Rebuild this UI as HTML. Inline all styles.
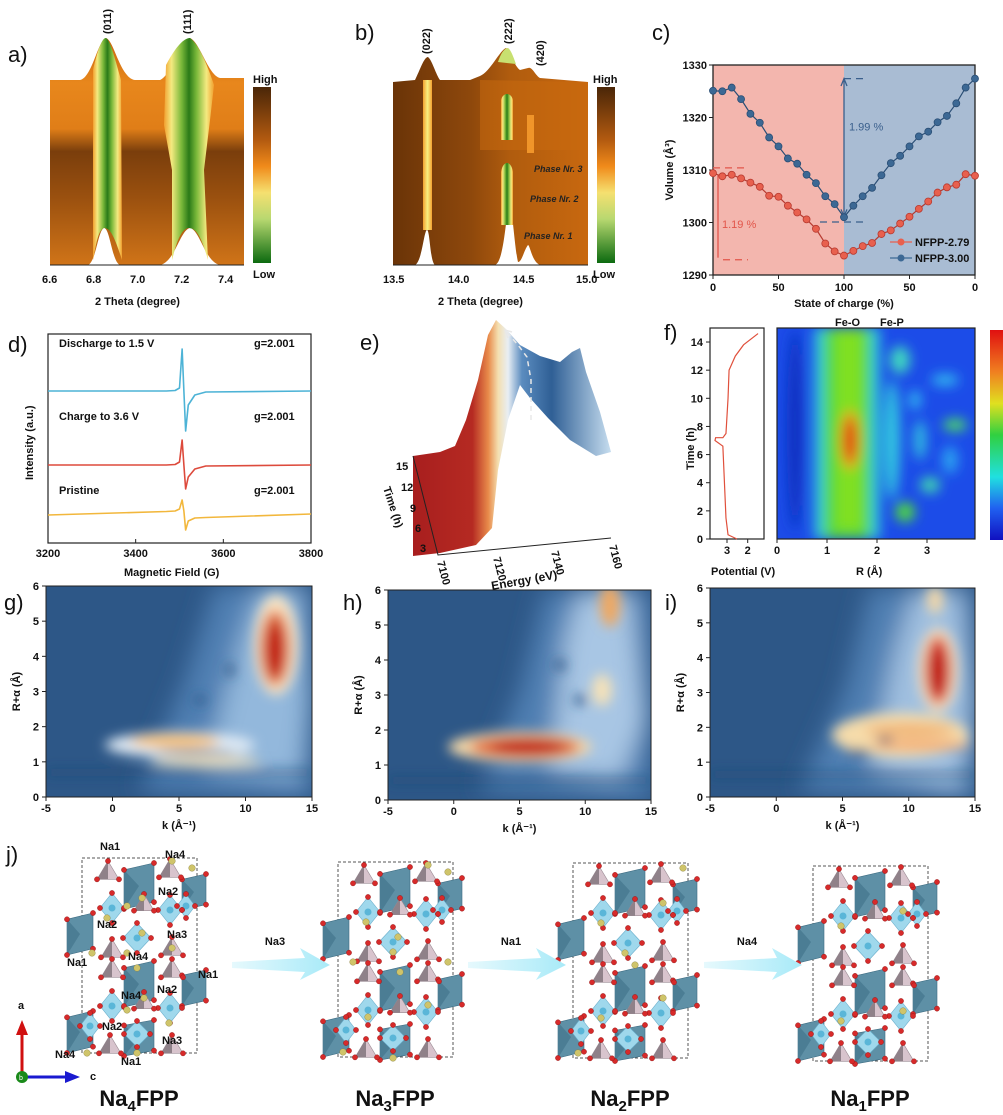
<!DOCTYPE html>
<html><head><meta charset="utf-8">
<style>
html,body{margin:0;padding:0;background:#fff;}
svg{display:block;font-family:"Liberation Sans",Arial,sans-serif;}
.t{font-size:11px;font-weight:bold;fill:#111;}
.pl{font-size:22px;fill:#111;}
</style></head>
<body>
<svg id="fig" width="1003" height="1115" viewBox="0 0 1003 1115" xmlns="http://www.w3.org/2000/svg">
<defs>
<linearGradient id="cbXrd" x1="0" y1="0" x2="0" y2="1">
<stop offset="0" stop-color="#4a2608"/><stop offset="0.3" stop-color="#b25a10"/><stop offset="0.45" stop-color="#f08a1a"/><stop offset="0.6" stop-color="#f5e070"/><stop offset="0.75" stop-color="#b8d870"/><stop offset="1" stop-color="#0c6a10"/></linearGradient>
<linearGradient id="bodyA" x1="0" y1="0" x2="0" y2="1">
<stop offset="0" stop-color="#c9680e"/><stop offset="0.2" stop-color="#e8871c"/><stop offset="0.4" stop-color="#e07e18"/><stop offset="0.5" stop-color="#7a3e0c"/><stop offset="0.7" stop-color="#9a500f"/><stop offset="1" stop-color="#d07418"/></linearGradient>
<linearGradient id="bodyB" x1="0" y1="0" x2="1" y2="0">
<stop offset="0" stop-color="#6a3408"/><stop offset="0.4" stop-color="#8e480c"/><stop offset="0.6" stop-color="#b05c0e"/><stop offset="1" stop-color="#c8680f"/></linearGradient>
<linearGradient id="grn" x1="0" y1="0" x2="1" y2="0">
<stop offset="0" stop-color="#f2a030"/><stop offset="0.15" stop-color="#f4ea80"/><stop offset="0.35" stop-color="#7ab83a"/><stop offset="0.5" stop-color="#2a7a18"/><stop offset="0.65" stop-color="#7ab83a"/><stop offset="0.85" stop-color="#f4ea80"/><stop offset="1" stop-color="#f2a030"/></linearGradient>
<linearGradient id="yel" x1="0" y1="0" x2="1" y2="0">
<stop offset="0" stop-color="#f3a030"/><stop offset="0.5" stop-color="#f8f080"/><stop offset="1" stop-color="#f3a030"/></linearGradient>
<linearGradient id="cbJet" x1="0" y1="0" x2="0" y2="1">
<stop offset="0" stop-color="#e01010"/><stop offset="0.2" stop-color="#f08020"/><stop offset="0.35" stop-color="#e0e020"/><stop offset="0.5" stop-color="#30d040"/><stop offset="0.7" stop-color="#20e0e0"/><stop offset="0.85" stop-color="#2060f0"/><stop offset="1" stop-color="#1010c0"/></linearGradient>
<linearGradient id="eGrad" x1="0" y1="0" x2="1" y2="0">
<stop offset="0" stop-color="#a81e1e"/><stop offset="0.3" stop-color="#b52a22"/><stop offset="0.38" stop-color="#e88a4a"/><stop offset="0.43" stop-color="#f4dfb0"/><stop offset="0.48" stop-color="#e8eef4"/><stop offset="0.55" stop-color="#5b8cbf"/><stop offset="0.7" stop-color="#2f5f95"/><stop offset="1" stop-color="#c6ddef"/></linearGradient>
<linearGradient id="arrowG" x1="0" y1="0" x2="1" y2="0">
<stop offset="0" stop-color="#e6f9fd"/><stop offset="1" stop-color="#a8eaf8"/></linearGradient>
<filter id="bl6" x="-50%" y="-50%" width="200%" height="200%"><feGaussianBlur stdDeviation="6"/></filter>
<filter id="bl12" x="-50%" y="-50%" width="200%" height="200%"><feGaussianBlur stdDeviation="12"/></filter>
<clipPath id="cg"><rect x="46" y="586" width="266" height="211"/></clipPath>
<clipPath id="ch"><rect x="388" y="590" width="263" height="210"/></clipPath>
<clipPath id="ci"><rect x="710" y="588" width="265" height="209"/></clipPath>
<clipPath id="cf"><rect x="777" y="328" width="198" height="211"/></clipPath>
</defs>

<!-- ===== panel a ===== -->
<g>
<text class="pl" x="8" y="62">a)</text>
<path d="M50,80 L80,80 C92,78 98,40 106,38 C114,40 120,78 135,80 L160,80 C172,75 180,40 190,38 C200,42 208,75 220,78 L244,78 L244,265 L220,265 C205,262 200,230 190,228 C180,230 175,262 160,265 L120,265 C112,262 110,228 104,228 C98,230 96,262 88,265 L50,265 Z" fill="url(#bodyA)"/>
<path d="M93,70 C100,40 104,38 106,38 C110,40 114,55 121,80 L122,260 C114,235 110,228 104,228 C98,230 96,245 93,260 Z" fill="url(#grn)"/>
<path d="M166,65 C178,42 186,38 190,38 C196,42 204,55 214,85 L210,120 L204,170 L208,260 C200,232 195,228 188,228 C180,230 176,245 172,260 L172,170 L164,125 Z" fill="url(#grn)"/>
<line x1="50" y1="265" x2="244" y2="265" stroke="#222" stroke-width="1"/>
<g class="t" font-size="12">
<text x="42" y="283">6.6</text><text x="86" y="283">6.8</text><text x="130" y="283">7.0</text><text x="174" y="283">7.2</text><text x="218" y="283">7.4</text>
</g>
<text x="95" y="305" class="t" font-size="13">2 Theta (degree)</text>
<text transform="translate(111,34) rotate(-90)" class="t" font-size="13">(011)</text>
<text transform="translate(191,34) rotate(-90)" class="t" font-size="13">(111)</text>
<rect x="253" y="87" width="18" height="176" fill="url(#cbXrd)"/>
<text x="253" y="83" class="t" font-size="15">High</text>
<text x="253" y="278" class="t" font-size="15">Low</text>
</g>

<!-- ===== panel b ===== -->
<g>
<text class="pl" x="355" y="40">b)</text>
<path d="M393,82 L415,80 C420,70 424,57 428,57 C432,60 436,75 440,80 L470,80 L480,76 C490,72 500,50 506,48 C510,50 514,66 520,70 L528,68 C532,66 535,75 540,78 L588,82 L588,265 L540,265 C532,262 530,245 528,245 C524,250 522,262 518,262 C515,250 512,205 510,205 C506,205 505,262 495,265 L435,265 C430,262 430,230 427,230 C424,230 422,262 415,265 L393,265 Z" fill="url(#bodyB)"/>
<path d="M480,80 L588,82 L588,150 L480,150 Z" fill="#c8690f" opacity="0.55"/>
<rect x="423" y="80" width="9" height="150" fill="url(#yel)"/>
<path d="M501,100 C503,92 511,92 513,100 L513,140 L501,140 Z" fill="url(#grn)"/>
<path d="M501,172 C503,160 511,160 513,172 L513,225 L501,225 Z" fill="url(#grn)"/>
<path d="M498,62 C502,50 506,48 508,48 C511,50 513,56 516,64 Z" fill="#c8e070"/>
<rect x="527" y="115" width="7" height="38" fill="#f0952a"/>
<g font-size="9" font-weight="bold" font-style="italic" fill="#222">
<text x="534" y="172">Phase Nr. 3</text><text x="530" y="202">Phase Nr. 2</text><text x="524" y="239">Phase Nr. 1</text></g>
<line x1="393" y1="265" x2="588" y2="265" stroke="#222"/>
<g class="t" font-size="12">
<text x="383" y="283">13.5</text><text x="448" y="283">14.0</text><text x="513" y="283">14.5</text><text x="576" y="283">15.0</text></g>
<text x="438" y="305" class="t" font-size="13">2 Theta (degree)</text>
<text transform="translate(430,54) rotate(-90)" class="t" font-size="13">(022)</text>
<text transform="translate(512,44) rotate(-90)" class="t" font-size="13">(222)</text>
<text transform="translate(544,66) rotate(-90)" class="t" font-size="13">(420)</text>
<rect x="597" y="87" width="18" height="176" fill="url(#cbXrd)"/>
<text x="593" y="83" class="t" font-size="15">High</text>
<text x="593" y="278" class="t" font-size="15">Low</text>
</g>

<!-- ===== panel c ===== -->
<g id="panelC">
<text class="pl" x="652" y="40">c)</text>
</g>

<!-- ===== panel d ===== -->
<g id="panelD">
<text class="pl" x="8" y="352">d)</text>
<rect x="48" y="334" width="263" height="209" fill="none" stroke="#222" stroke-width="1.2"/>
<g class="t" font-size="11">
<text x="59" y="347">Discharge to 1.5 V</text><text x="254" y="347">g=2.001</text>
<text x="59" y="420">Charge to 3.6 V</text><text x="254" y="420">g=2.001</text>
<text x="59" y="494">Pristine</text><text x="254" y="494">g=2.001</text>
</g>
<text transform="translate(33,480) rotate(-90)" class="t" font-size="12">Intensity (a.u.)</text>
<text x="124" y="576" class="t" font-size="12">Magnetic Field (G)</text>
</g>

<!-- ===== panel e ===== -->
<g>
<text class="pl" x="360" y="350">e)</text>
<path d="M413,456 L440,452 L455,446 L466,420 L478,380 L488,335 L496,320 L506,329 L520,345 L540,356 L560,362 L572,352 L580,348 L586,372 L600,412 L611,452 L596,456 L570,440 L548,418 L530,398 L520,385 L508,420 L498,470 L492,528 L476,545 L440,553 L413,556 Z" fill="url(#eGrad)"/>
<path d="M531,420 L531,380 L527,357 L518,345 L505,330" fill="none" stroke="#e8e8e8" stroke-width="1.5" stroke-dasharray="5,4"/>
<path d="M505,330 L508,338 M505,330 L512,332" stroke="#e8e8e8" stroke-width="1.5"/>
<path d="M413,456 L438,555 L611,538" fill="none" stroke="#222" stroke-width="1"/>
<g class="t" font-size="10">
<text x="396" y="470">15</text><text x="401" y="491">12</text><text x="410" y="512">9</text><text x="415" y="532">6</text><text x="420" y="552">3</text>
<text transform="translate(437,562) rotate(75)">7100</text>
<text transform="translate(493,558) rotate(75)">7120</text>
<text transform="translate(551,552) rotate(75)">7140</text>
<text transform="translate(609,546) rotate(75)">7160</text>
<text transform="translate(383,488) rotate(72)" font-size="11">Time (h)</text>
<text transform="translate(492,590) rotate(-10)" font-size="12">Energy (eV)</text>
</g>
</g>

<!-- ===== panel f ===== -->
<g id="panelF">
<text class="pl" x="664" y="340">f)</text>
<g clip-path="url(#cf)">
<rect x="777" y="328" width="198" height="211" fill="#1c4ce8"/>
<g filter="url(#bl6)">
<rect x="814" y="328" width="66" height="211" fill="#30c8d8"/>
<rect x="824" y="328" width="46" height="211" fill="#52d83c"/>
<rect x="836" y="330" width="26" height="200" fill="#80e020"/>
<ellipse cx="850" cy="440" rx="10" ry="30" fill="#e8a020"/>
<ellipse cx="850" cy="440" rx="6" ry="22" fill="#e03010"/>
<ellipse cx="892" cy="440" rx="8" ry="60" fill="#30c8e0"/>
<ellipse cx="905" cy="512" rx="10" ry="10" fill="#50d840"/>
<ellipse cx="900" cy="360" rx="10" ry="14" fill="#40d8c0"/>
<ellipse cx="955" cy="425" rx="12" ry="6" fill="#50e060"/>
<ellipse cx="920" cy="440" rx="6" ry="20" fill="#30c0e0"/>
<ellipse cx="930" cy="485" rx="10" ry="8" fill="#40d8b0"/>
<ellipse cx="945" cy="380" rx="14" ry="6" fill="#30b8f0"/>
<ellipse cx="915" cy="400" rx="6" ry="10" fill="#30b8f0"/>
<ellipse cx="950" cy="460" rx="8" ry="14" fill="#2aa0f0"/>
<ellipse cx="795" cy="430" rx="8" ry="100" fill="#1030c0"/>
</g>
</g>
<rect x="777" y="328" width="198" height="211" fill="none" stroke="#222" stroke-width="1.2"/>
<rect x="710" y="328" width="54" height="211" fill="none" stroke="#222" stroke-width="1.2"/>
<rect x="990" y="330" width="13" height="210" fill="url(#cbJet)"/>
<text x="835" y="326" class="t" font-size="12">Fe-O</text>
<text x="880" y="326" class="t" font-size="12">Fe-P</text>
<text x="711" y="575" class="t" font-size="12">Potential (V)</text>
<text x="856" y="575" class="t" font-size="12">R (Å)</text>
<text transform="translate(694,470) rotate(-90)" class="t" font-size="11">Time (h)</text>
</g>

<!-- ===== panels g,h,i ===== -->
<g>
<text class="pl" x="4" y="610">g)</text>
<g clip-path="url(#cg)">
<rect x="46" y="586" width="266" height="211" fill="#2d5787"/>
<g filter="url(#bl12)">
<path d="M140,790 L185,680 L215,586 L312,586 L312,800 Z" fill="#4f7fb2"/>
<path d="M205,770 L240,640 L260,586 L300,586 L310,700 L300,780 Z" fill="#93b8dc"/>
</g>
<g filter="url(#bl6)">
<ellipse cx="180" cy="745" rx="75" ry="13" fill="#dfeaf4"/>
<ellipse cx="175" cy="741" rx="45" ry="7" fill="#f7c070"/>
<ellipse cx="205" cy="761" rx="55" ry="5" fill="#f3e2bc"/>
<ellipse cx="195" cy="753" rx="40" ry="2.5" fill="#24507e"/>
<ellipse cx="276" cy="645" rx="22" ry="50" fill="#fbe6c4"/>
<ellipse cx="275" cy="648" rx="15" ry="38" fill="#e07040"/>
<ellipse cx="275" cy="650" rx="9" ry="28" fill="#c01e16"/>
<ellipse cx="200" cy="700" rx="6" ry="4" fill="#2a5585"/><ellipse cx="230" cy="670" rx="4" ry="7" fill="#2a5585"/>
<rect x="46" y="771" width="266" height="3" fill="#1f4470"/>
</g></g>
<rect x="46" y="586" width="266" height="211" fill="none" stroke="#222"/>
</g>
<g>
<text class="pl" x="343" y="610">h)</text>
<g clip-path="url(#ch)">
<rect x="388" y="590" width="263" height="210" fill="#2d5787"/>
<g filter="url(#bl12)">
<path d="M480,790 L520,690 L545,590 L651,590 L651,800 Z" fill="#4f7fb2"/>
<path d="M550,770 L565,640 L580,590 L630,590 L645,720 L620,780 Z" fill="#a8c6e4"/>
</g>
<g filter="url(#bl6)">
<ellipse cx="520" cy="747" rx="72" ry="15" fill="#f5d8a8"/>
<ellipse cx="525" cy="747" rx="55" ry="11" fill="#e06a3a"/>
<ellipse cx="528" cy="747" rx="38" ry="7" fill="#bd1a16"/>
<ellipse cx="610" cy="605" rx="10" ry="22" fill="#f0a860"/>
<ellipse cx="602" cy="690" rx="10" ry="16" fill="#f6e2b8"/>
<ellipse cx="560" cy="665" rx="6" ry="5" fill="#2a5585"/><ellipse cx="580" cy="700" rx="6" ry="5" fill="#2a5585"/>
<rect x="388" y="779" width="263" height="3" fill="#1f4470"/>
</g></g>
<rect x="388" y="590" width="263" height="210" fill="none" stroke="#222"/>
</g>
<g>
<text class="pl" x="665" y="610">i)</text>
<g clip-path="url(#ci)">
<rect x="710" y="588" width="265" height="209" fill="#2d5787"/>
<g filter="url(#bl12)">
<path d="M800,790 L845,690 L870,588 L975,588 L975,800 Z" fill="#4f7fb2"/>
<path d="M870,770 L895,650 L915,588 L960,588 L975,700 L960,790 Z" fill="#a0c0e0"/>
</g>
<g filter="url(#bl6)">
<ellipse cx="900" cy="735" rx="68" ry="22" fill="#f6dcaa"/>
<ellipse cx="910" cy="730" rx="45" ry="6" fill="#f0b070"/>
<ellipse cx="920" cy="745" rx="50" ry="5" fill="#f3a870"/>
<ellipse cx="885" cy="740" rx="8" ry="3" fill="#24507e"/>
<ellipse cx="858" cy="752" rx="12" ry="3" fill="#24507e"/>
<ellipse cx="938" cy="670" rx="20" ry="42" fill="#f9e0bc"/>
<ellipse cx="938" cy="670" rx="13" ry="34" fill="#d84030"/>
<ellipse cx="938" cy="672" rx="8" ry="24" fill="#bd1a16"/>
<ellipse cx="935" cy="600" rx="8" ry="14" fill="#f6d9a8"/>
<rect x="710" y="773" width="265" height="3" fill="#1f4470"/>
</g></g>
<rect x="710" y="588" width="265" height="209" fill="none" stroke="#222"/>
</g>
<g id="wtAxes"></g>

<!-- ===== panel j ===== -->
<g id="panelJ">
<text class="pl" x="6" y="862">j)</text>
</g>
</svg>

<script>
const NS='http://www.w3.org/2000/svg';
function mk(tag,attrs,parent,txt){const e=document.createElementNS(NS,tag);for(const k in attrs)e.setAttribute(k,attrs[k]);if(txt!==undefined)e.textContent=txt;(parent||document.getElementById('fig')).appendChild(e);return e;}

/* ---------- panel c data ---------- */
const socTicks=[0,50,100,50,0];
const volTicks=[1290,1300,1310,1320,1330];
const blueVol=[1325.1,1325.0,1325.7,1323.5,1320.7,1319.0,1316.2,1314.5,1312.2,1311.2,1309.1,1307.5,1305.0,1303.5,1301.0,1303.2,1305.0,1306.6,1309.0,1311.3,1312.7,1314.5,1316.4,1317.3,1319.1,1320.3,1322.7,1325.7,1327.4];
const redVol=[1309.4,1308.8,1309.1,1308.4,1307.6,1306.8,1305.1,1304.9,1303.2,1301.9,1300.6,1298.8,1296.0,1294.5,1293.7,1294.6,1295.5,1296.1,1297.8,1298.5,1299.8,1301.1,1302.6,1304.0,1305.7,1306.7,1307.2,1309.2,1308.9];
const seriesNames=['NFPP-2.79','NFPP-3.00'];
(function(){
 const g=document.getElementById('panelC');
 const X0=713,X1=975,Y0=275,Y1=65;
 const xs=i=>X0+(X1-X0)*i/(blueVol.length-1);
 const ys=v=>Y0-(v-1290)/(1330-1290)*(Y0-Y1);
 const xm=(X0+X1)/2;
 let r=mk('rect',{x:X0,y:Y1,width:xm-X0,height:Y0-Y1,fill:'#f3b6ae'},g);
 
 r=mk('rect',{x:xm,y:Y1,width:X1-xm,height:Y0-Y1,fill:'#a9bcd3'},g);
 
 mk('rect',{x:X0,y:Y1,width:X1-X0,height:Y0-Y1,fill:'none',stroke:'#222','stroke-width':1.3},g);
 volTicks.forEach(v=>{const y=ys(v);mk('line',{x1:X0-4,x2:X0,y1:y,y2:y,stroke:'#222'},g);
  const t=mk('text',{x:X0-6,y:y+4,'text-anchor':'end',class:'t','font-size':11},g,v);});
 socTicks.forEach((s,i)=>{const x=X0+(X1-X0)*i/4;mk('line',{x1:x,x2:x,y1:Y0,y2:Y0+4,stroke:'#222'},g);
  const t=mk('text',{x:x,y:Y0+16,'text-anchor':'middle',class:'t','font-size':11},g,s);});
 let t=mk('text',{x:xm,y:Y0+32,'text-anchor':'middle',class:'t','font-size':12},g,'State of charge (%)');
 
 t=mk('text',{transform:`translate(${X0-40},${(Y0+Y1)/2}) rotate(-90)`,'text-anchor':'middle',class:'t','font-size':12},g,'Volume (Å³)');
 
 const dash={stroke:'#3a5f8c','stroke-width':1.3,'stroke-dasharray':'7,5'};
 mk('line',Object.assign({x1:xm,x2:xm+24,y1:ys(1327.4),y2:ys(1327.4)},dash),g);
 mk('line',Object.assign({x1:xm-24,x2:xm+24,y1:ys(1300.1),y2:ys(1300.1)},dash),g);
 mk('line',{x1:xm,x2:xm,y1:ys(1327),y2:ys(1301.5),stroke:'#3a5f8c','stroke-width':1.3},g);
 mk('path',{d:`M${xm-3},${ys(1326)} L${xm},${ys(1327.4)} L${xm+3},${ys(1326)} M${xm-3},${ys(1302.5)} L${xm},${ys(1301.2)} L${xm+3},${ys(1302.5)}`,stroke:'#3a5f8c',fill:'none','stroke-width':1.3},g);
 mk('text',{x:xm+5,y:ys(1317.5),fill:'#3a5f8c','font-size':11},g,'1.99 %');
 const dr={stroke:'#e2554a','stroke-width':1.3,'stroke-dasharray':'7,5'};
 mk('line',Object.assign({x1:X0,x2:X0+35,y1:ys(1310.4),y2:ys(1310.4)},dr),g);
 mk('line',Object.assign({x1:X0+10,x2:X0+35,y1:ys(1292.9),y2:ys(1292.9)},dr),g);
 mk('line',{x1:X0+5,x2:X0+5,y1:ys(1309),y2:ys(1293.3),stroke:'#e2554a','stroke-width':1.3},g);
 mk('text',{x:X0+9,y:ys(1299),fill:'#e2554a','font-size':11},g,'1.19 %');
 [[redVol,'#e8604e','#b73a30'],[blueVol,'#3c6894','#2a4e75']].forEach(([arr,c,cd],si)=>{
  const p=mk('polyline',{points:arr.map((v,i)=>xs(i)+','+ys(v)).join(' '),fill:'none',stroke:cd,'stroke-width':1.2},g);
  
  arr.forEach((v,i)=>{const m=mk('circle',{cx:xs(i),cy:ys(v),r:3.5,fill:c,stroke:cd,'stroke-width':0.8},g);
   });
 });
 seriesNames.forEach((n,i)=>{const y=242+i*16;const c=i?'#3c6894':'#e8604e';
  const lg=mk('g',{},g);
  mk('line',{x1:890,x2:912,y1:y,y2:y,stroke:c,'stroke-width':1.3},lg);mk('circle',{cx:901,cy:y,r:3.5,fill:c},lg);
  mk('text',{x:915,y:y+4,class:'t','font-size':11},lg,n);});
})();

/* ---------- panel d data ---------- */
const fieldTicks=[3200,3400,3600,3800];
const eprField=[3200,3470,3490,3500,3506,3510,3514,3520,3535,3560,3800];
const eprBlue=[0,0,0.5,3,42,0,-40,-14,-4,-1,0];
const eprRed=[0,0,0.5,3,25,0,-24,-12,-4,-1,0];
const eprYellow=[-4,-0.5,0,2,11,0,-19,-10,-7,-6.5,-3];
const eprBase=[391,465,511];
(function(){
 const g=document.getElementById('panelD');
 const X0=48,X1=311;const xs=f=>X0+(f-3200)/600*(X1-X0);
 fieldTicks.forEach(f=>{const x=xs(f);mk('line',{x1:x,x2:x,y1:543,y2:539,stroke:'#222'},g);
  const t=mk('text',{x:x,y:557,'text-anchor':'middle',class:'t','font-size':11},g,f);});
 [[eprBlue,'#4db3d6','discharge-1.5V'],[eprRed,'#dd4a3c','charge-3.6V'],[eprYellow,'#f2b73c','pristine']].forEach(([arr,c,n],i)=>{
  const p=mk('polyline',{points:arr.map((v,k)=>xs(eprField[k])+','+(eprBase[i]-v)).join(' '),fill:'none',stroke:c,'stroke-width':1.6,'stroke-linejoin':'round'},g);
  });
})();

/* ---------- panel f potential ---------- */
const potV=[2.52,2.95,3.05,3.2,3.58,3.55,3.2,3.05,2.95,2.9,2.6,2.2,1.5];
const potT=[0,0.3,1.5,6.6,7.0,7.2,7.2,7.5,10,12,13,13.8,14.6];
const timeTicks=[0,2,4,6,8,10,12,14];
const rTicks=[0,1,2,3];
(function(){
 const g=document.getElementById('panelF');
 const ty=t=>539-t*14.07;const vx=v=>727-(v-3)*20.7;
 const p=mk('polyline',{points:potV.map((v,i)=>vx(v)+','+ty(potT[i])).join(' '),fill:'none',stroke:'#e0503c','stroke-width':1.2},g);
 
 timeTicks.forEach(t=>{mk('line',{x1:710,x2:706,y1:ty(t),y2:ty(t),stroke:'#222'},g);mk('text',{x:703,y:ty(t)+4,'text-anchor':'end',class:'t','font-size':10},g,t);});
 [3,2].forEach(v=>{mk('line',{x1:vx(v),x2:vx(v),y1:539,y2:543,stroke:'#222'},g);mk('text',{x:vx(v),y:554,'text-anchor':'middle',class:'t','font-size':11},g,v);});
 rTicks.forEach(r=>{const x=777+r*50;mk('line',{x1:x,x2:x,y1:539,y2:543,stroke:'#222'},g);mk('text',{x:x,y:554,'text-anchor':'middle',class:'t','font-size':11},g,r);});
})();

/* ---------- g,h,i axes ---------- */
const kTicks=[-5,0,5,10,15];
const rAlphaTicks=[0,1,2,3,4,5,6];
(function(){
 const g=document.getElementById('wtAxes');
 [[46,312,586,797],[388,651,590,800],[710,975,588,797]].forEach(([x0,x1,y0,y1],pi)=>{
  kTicks.forEach(k=>{const x=x0+(k+5)/20*(x1-x0);mk('line',{x1:x,x2:x,y1:y1,y2:y1+4,stroke:'#222'},g);
   mk('text',{x:x,y:y1+15,'text-anchor':'middle',class:'t','font-size':10},g,k);});
  rAlphaTicks.forEach(r=>{const y=y1-r/6*(y1-y0);mk('line',{x1:x0-4,x2:x0,y1:y,y2:y,stroke:'#222'},g);
   mk('text',{x:x0-7,y:y+4,'text-anchor':'end',class:'t','font-size':11},g,r);});
  mk('text',{x:(x0+x1)/2,y:y1+32,'text-anchor':'middle',class:'t','font-size':11},g,'k (Å⁻¹)');
  mk('text',{transform:`translate(${x0-26},${(y0+y1)/2}) rotate(-90)`,'text-anchor':'middle',class:'t','font-size':11},g,'R+α (Å)');
 });
})();

/* ---------- panel j structures ---------- */
(function(){
 const g=document.getElementById('panelJ');
 const dark=[[57,28,30,46],[-2,76,26,42],[57,126,30,46],[-2,174,26,42],[112,34,24,36],[112,130,24,36],[57,180,30,36]];
 const light=[[30,50,24,30],[88,52,24,30],[55,80,28,30],[30,148,24,30],[88,150,24,30],[55,176,26,26],[8,168,20,26],[104,48,18,24]];
 const pink=[[26,14,22,22],[88,12,22,22],[62,46,20,20],[30,92,22,22],[90,90,22,22],[30,112,22,22],[90,112,22,22],[62,144,20,20],[28,188,22,22],[90,188,22,22]];
 const boxes=[[82,858],[338,862],[573,863],[813,866]];
 const naSets=[
  [[25,60],[45,48],[90,3],[110,10],[60,40],[60,75],[10,95],[45,95],[55,110],[90,90],[62,140],[45,152],[87,165],[5,195],[55,195]],
  [[28,60],[90,3],[110,10],[60,75],[55,90],[62,110],[15,100],[110,100],[30,155],[90,143],[5,190],[55,196]],
  [[28,60],[90,40],[110,5],[52,90],[62,102],[90,135],[28,155],[5,190]],
  [[28,60],[90,45],[28,155],[90,145]]];
 const subs=['4','3','2','1'];
 boxes.forEach(([bx,by],si)=>{
  const s=mk('g',{transform:`translate(${bx},${by})`},g);
  
  mk('rect',{x:0,y:0,width:115,height:195,fill:'none',stroke:'#555','stroke-dasharray':'3,2'},s);
  const O=[];
  dark.forEach(([cx,cy,w,h])=>{const v=[[cx-w/2,cy-h*0.35],[cx+w/2,cy-h/2],[cx+w/2,cy+h*0.35],[cx-w/2,cy+h/2]];
   mk('polygon',{points:v.join(' '),fill:'#5e90a6',stroke:'#3e6c82','stroke-width':0.6},s);
   mk('polygon',{points:[[cx-w/2,cy-h*0.35],[cx,cy],[cx-w/2,cy+h/2]].join(' '),fill:'#4b7d94'},s);O.push(...v);});
  light.forEach(([cx,cy,w,h])=>{const v=[[cx,cy-h/2],[cx+w/2,cy],[cx,cy+h/2],[cx-w/2,cy]];
   mk('polygon',{points:v.join(' '),fill:'#9fd8ec',stroke:'#6aaecb','stroke-width':0.6},s);
   mk('circle',{cx:cx,cy:cy,r:3.5,fill:'#5ab6d8'},s);O.push(...v);});
  pink.forEach(([cx,cy,w,h])=>{const v=[[cx,cy-h/2],[cx+w/2,cy+h/3],[cx-w/2,cy+h/3]];
   mk('polygon',{points:v.join(' '),fill:'#d8c4cd',stroke:'#9a8a93','stroke-width':0.6},s);
   mk('polygon',{points:[[cx,cy-h/2],[cx,cy+h/3],[cx-w/2,cy+h/3]].join(' '),fill:'#8f8189'},s);O.push(...v);});
  O.forEach(([x,y])=>mk('circle',{cx:x,cy:y,r:2.6,fill:'#d72a2a',stroke:'#8a1010','stroke-width':0.4},s));
  naSets[si].forEach(([x,y])=>mk('circle',{cx:x,cy:y,r:3.3,fill:'#cfc46a',stroke:'#8a8040','stroke-width':0.4},s));
  const t=mk('text',{x:bx+57,y:1106,'text-anchor':'middle','font-size':22,'font-weight':'bold',fill:'#111'},g);
  
  mk('tspan',{},t,'Na');mk('tspan',{'font-size':15,dy:5},t,subs[si]);mk('tspan',{dy:-5},t,'FPP');
 });
 [['Na1',100,850],['Na4',165,858],['Na2',158,895],['Na2',97,928],['Na3',167,938],['Na1',67,966],['Na4',128,960],['Na1',198,978],['Na4',121,999],['Na2',157,993],['Na2',102,1030],['Na3',162,1044],['Na4',55,1058],['Na1',121,1065]].forEach(([s,x,y])=>{
  mk('text',{x:x,y:y,class:'t','font-size':12},g,s);});
 [[232,330,'Na3'],[468,566,'Na1'],[704,802,'Na4']].forEach(([x0,x1,l])=>{
  const a=mk('polygon',{points:`${x0},962 ${x1-25},958 ${x1-30},948 ${x1},965 ${x1-30},980 ${x1-25},972 ${x0},968`,fill:'url(#arrowG)'},g);
  
  mk('text',{x:(x0+x1)/2-6,y:945,'text-anchor':'middle',class:'t','font-size':13},g,l);});
 mk('line',{x1:22,y1:1075,x2:22,y2:1030,stroke:'#d01010','stroke-width':3},g);
 mk('polygon',{points:'16,1035 22,1020 28,1035',fill:'#d01010'},g);
 mk('line',{x1:22,y1:1077,x2:70,y2:1077,stroke:'#1a1ad0','stroke-width':3},g);
 mk('polygon',{points:'65,1071 80,1077 65,1083',fill:'#1a1ad0'},g);
 mk('circle',{cx:22,cy:1077,r:6,fill:'#1a8a1a'},g);
 mk('text',{x:18,y:1009,class:'t','font-size':8},g,'a');
 mk('text',{x:90,y:1080,class:'t','font-size':8},g,'c');
 mk('text',{x:19,y:1080,'font-size':7,fill:'#fff'},g,'b');
})();
</script>
</body></html>
